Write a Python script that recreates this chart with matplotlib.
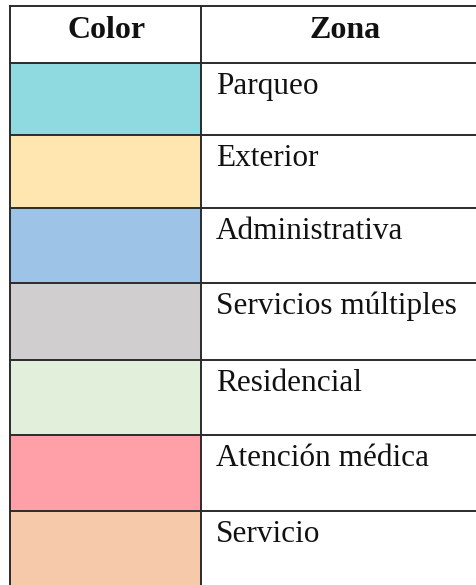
import matplotlib
matplotlib.use("Agg")
import matplotlib.pyplot as plt
from matplotlib.patches import Rectangle

headers = ["Color", "Zona"]
zones = ["Parqueo", "Exterior", "Administrativa", "Servicios múltiples",
         "Residencial", "Atención médica", "Servicio"]
colors = ["#8FD9E1", "#FFE6B1", "#9DC3E6", "#D0CECE",
          "#E2EFDA", "#FF9FA7", "#F6C9AA"]

W, H = 477, 585
fig = plt.figure(figsize=(W / 100, H / 100), dpi=100)
ax = fig.add_axes([0, 0, 1, 1])
ax.set_xlim(0, W)
ax.set_ylim(H, 0)
ax.axis("off")

x_left, x_mid, x_right = 10, 201, 489
row_edges = [6, 63, 135, 208, 283, 360, 435, 511, 600]
line_c = "#2b2b2b"
lw = 1.4
fs = 22.5
fs_h = 23

# colour cells
for i, c in enumerate(colors):
    top, bot = row_edges[i + 1], row_edges[i + 2]
    ax.add_patch(Rectangle((x_left, top), x_mid - x_left, bot - top,
                           facecolor=c, edgecolor="none", zorder=1))
    ax.text(x_mid + 15, top + 31, zones[i], fontsize=fs, family="Liberation Serif",
            va="baseline", ha="left", color="#111111", zorder=3)

# header
ax.text((x_left + x_mid) / 2 + 1, 38, headers[0], fontsize=fs_h, family="Liberation Serif",
        fontweight="bold", ha="center", va="baseline", color="#111111")
ax.text((x_mid + x_right) / 2, 38, headers[1], fontsize=fs_h, family="Liberation Serif",
        fontweight="bold", ha="center", va="baseline", color="#111111")

# grid lines
for y in row_edges[:-1]:
    ax.plot([x_left, x_right], [y, y], color=line_c, lw=lw, zorder=2,
            solid_capstyle="projecting")
for x in (x_left, x_mid):
    ax.plot([x, x], [row_edges[0], H + 5], color=line_c, lw=lw, zorder=2,
            solid_capstyle="projecting")

fig.savefig("out.png", dpi=100)
